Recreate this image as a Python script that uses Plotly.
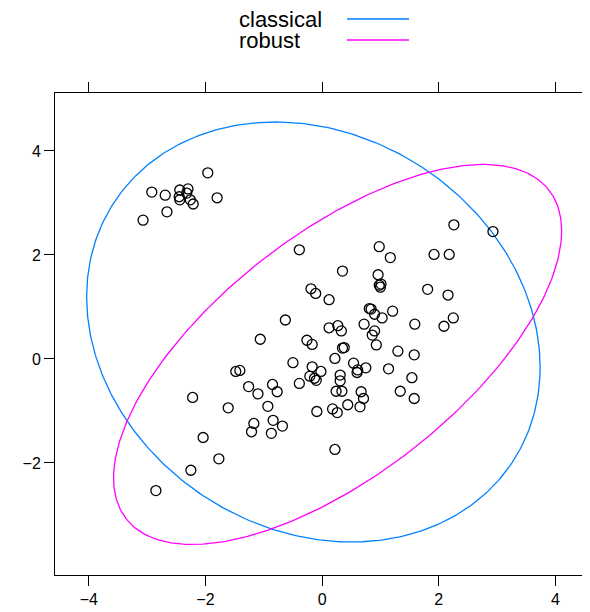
import numpy as np
import plotly.graph_objects as go

# observed points
x_vals = [-1.96, -2.92, -2.69, -2.44, -2.30, -2.45, -2.44, -2.32, -2.26, -2.21, -1.80, -2.66, -3.07,
          -0.39, 0.35, -0.19, -0.11, 0.12, 0.81, 0.84, 0.90, 0.98, 0.96, 0.98, -0.63, 0.72, 0.12, 0.27,
          0.33, 0.90, 0.86, 0.93, -1.06, -0.26, -0.17, 0.35, 0.38, 0.22, -0.50, 0.54, 0.75, -0.17,
          -0.02, 0.60, 0.61, 0.31, -0.21, -1.48, -1.41, -0.13,
          2.26, 2.93, 1.17, 1.92, 2.18, 1.01, 1.00, 1.81, 2.16, 1.03, 1.21, 1.59, 2.25, 2.09, 1.30, 1.58,
          1.14, 1.54, 1.34, 1.58, 0.31, -0.10, -0.39, 0.24, 0.34, 0.67, 0.71, 0.44, 0.65, 0.18, 0.26,
          -0.09, -0.85, -0.77, -1.26, -1.10, -2.22, -1.61, -0.93, -0.84, -0.68, -1.17, -1.21, -0.87,
          0.22, -2.04, -1.77, -2.25, -2.85]
y_vals = [3.58, 3.21, 3.15, 3.25, 3.27, 3.12, 3.06, 3.19, 3.06, 2.98, 3.10, 2.83, 2.67,
          2.10, 1.69, 1.35, 1.26, 1.14, 0.97, 0.96, 0.86, 2.16, 1.62, 1.42, 0.75, 0.67, 0.60, 0.64,
          0.54, 0.54, 0.46, 0.27, 0.38, 0.36, 0.28, 0.21, 0.22, 0.01, -0.07, -0.08, -0.17, -0.15,
          -0.24, -0.26, -0.21, -0.31, -0.33, -0.24, -0.22, -0.37,
          2.58, 2.45, 1.95, 2.01, 2.01, 1.44, 1.38, 1.34, 1.23, 0.79, 0.92, 0.67, 0.79, 0.63, 0.15, 0.08,
          -0.19, -0.36, -0.62, -0.76, -0.42, -0.41, -0.47, -0.62, -0.62, -0.63, -0.76, -0.88, -0.92, -0.96, -1.03,
          -1.01, -0.49, -0.63, -0.53, -0.67, -0.74, -0.94, -0.91, -1.18, -1.29, -1.24, -1.40, -1.43,
          -1.74, -1.51, -1.92, -2.14, -2.53]

# ellipse parameters: center x, center y, half-width, half-height, correlation
series_names = ["classical", "robust"]
ell_cx = [-0.149, 0.266]
ell_cy = [0.519, 0.087]
ell_a = [3.888, 3.842]
ell_b = [4.038, 3.654]
ell_rho = [-0.168, 0.65]
series_colors = ["#0080ff", "#ff00ff"]

x_ticks = [-4, -2, 0, 2, 4]
y_ticks = [-2, 0, 2, 4]

# page body adds an 8px margin; figure is sized/placed to compensate
OFF = 8
W, H = 590 - OFF, 612 - OFF
L, R, T = 55 - OFF, 2, 93 - OFF
B = H - (575 - OFF)

fig = go.Figure()
t = np.linspace(0, 2 * np.pi, 400)
for name, cx, cy, a, b, r, col in zip(series_names, ell_cx, ell_cy, ell_a, ell_b, ell_rho, series_colors):
    ex = cx + a * np.cos(t)
    ey = cy + b * (r * np.cos(t) + np.sqrt(1 - r * r) * np.sin(t))
    fig.add_trace(go.Scatter(x=ex, y=ey, mode="lines", line=dict(color=col, width=1.3),
                             name=name, showlegend=False, hoverinfo="skip"))

fig.add_trace(go.Scatter(x=x_vals, y=y_vals, mode="markers",
                         marker=dict(symbol="circle-open", size=10, color="black", line=dict(width=1.3)),
                         showlegend=False))

font = dict(family="Liberation Sans, Arial, sans-serif", size=16, color="black")
axis_common = dict(showgrid=False, zeroline=False, showline=True, linecolor="black", linewidth=1,
                   mirror="ticks", ticks="outside", ticklen=10, tickcolor="black", tickwidth=1,
                   tickfont=font, automargin=False)

fig.update_layout(
    width=W, height=H,
    margin=dict(l=L, r=R, t=T, b=B, autoexpand=False),
    paper_bgcolor="white", plot_bgcolor="white",
    xaxis=dict(range=[-4.58, 4.56], tickvals=x_ticks, **axis_common),
    yaxis=dict(range=[-4.154, 5.115], tickvals=y_ticks, **axis_common),
    font=font,
)

pw = W - L - R
ph = H - T - B

def px_to_paper(px, py):
    # px, py are screenshot coordinates
    return (px - OFF - L) / pw, (H - B - (py - OFF)) / ph

# legend (key) at top
key_y = [19, 40]
for i, (name, col) in enumerate(zip(series_names, series_colors)):
    xa, yp = px_to_paper(237, key_y[i])
    fig.add_annotation(x=xa, y=yp, xref="paper", yref="paper", text=name, showarrow=False,
                       xanchor="left", yanchor="middle", height=20, valign="middle",
                       font=dict(family=font["family"], size=22, color="black"))
    x0, _ = px_to_paper(347, key_y[i])
    x1, _ = px_to_paper(409, key_y[i])
    fig.add_shape(type="line", xref="paper", yref="paper", x0=x0, x1=x1, y0=yp, y1=yp,
                  line=dict(color=col, width=1.3))

fig.write_html("out.html")
